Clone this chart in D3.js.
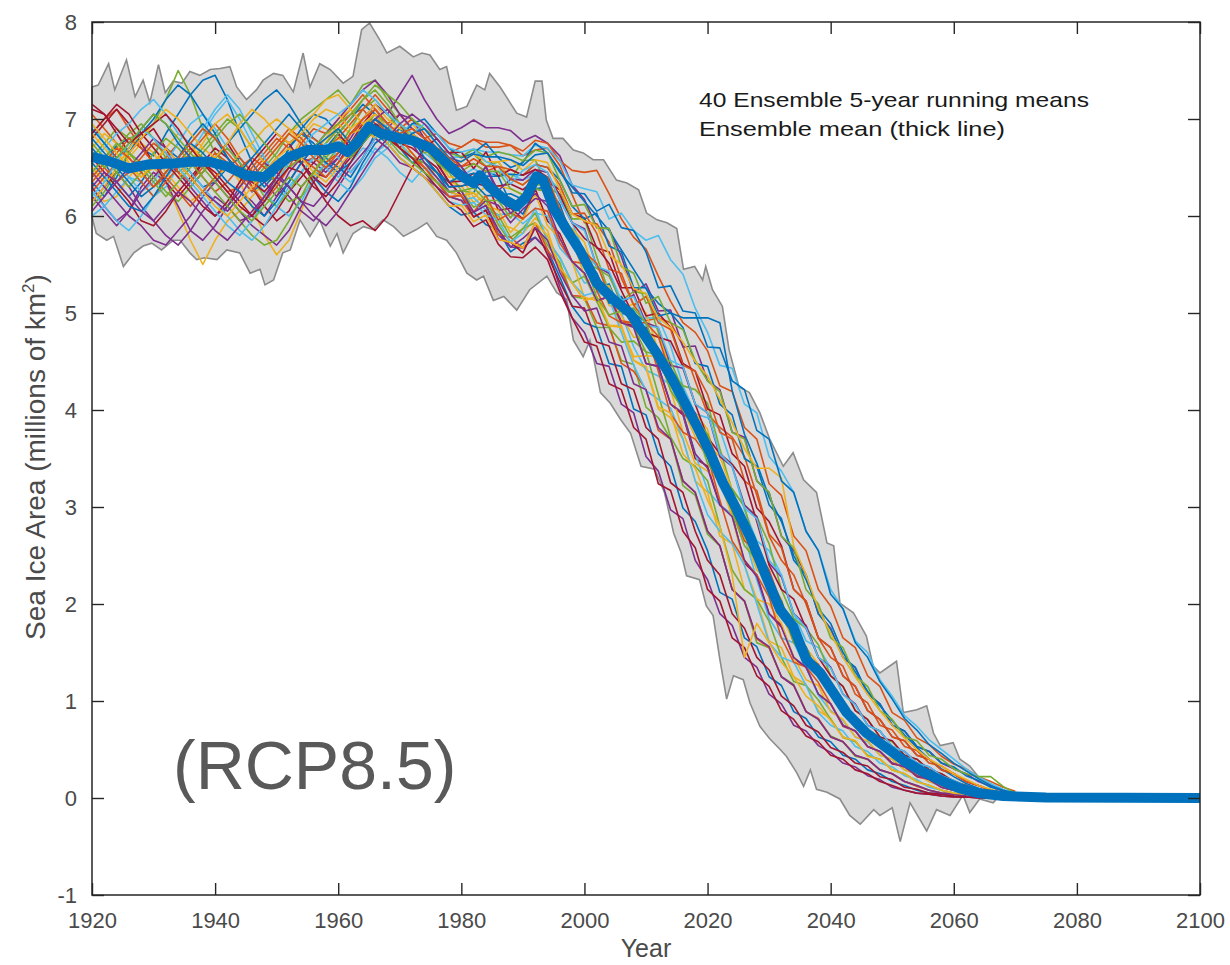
<!DOCTYPE html>
<html>
<head>
<meta charset="utf-8">
<script src="https://cdn.jsdelivr.net/npm/d3@7"></script>
<style>
  body { margin: 0; background: #fff; }
  svg { display: block; }
</style>
</head>
<body>
<div id="chart"></div>
<script>
// Years of the ensemble members (5-year running means, sampled every 2 years)
const memberYears = d3.range(1920, 2071, 2);

// 40 ensemble members, million km²
const member01 = [6.45,6.60,6.72,6.80,6.70,6.62,6.85,7.05,7.25,7.40, 7.45,7.20,6.85,6.55,6.35,6.45,6.70,6.90,7.05,7.00, 6.85,6.60,6.75,6.95,6.90,6.70,6.55,6.60,6.45,6.25, 6.21,6.24,6.46,6.41,6.13,6.02,6.28,6.30,6.12,5.77, 5.63,5.26,5.30,4.99,5.00,4.90,4.46,4.35,4.23,3.82, 3.70,3.22,3.15,2.75,2.62,2.12,2.00,1.80,1.45,1.35, 1.16,0.88,0.84,0.63,0.60,0.44,0.41,0.29,0.26,0.18, 0.13,0.07,0.06,0.03,0.02,0.01];
const member02 = [7.05,6.90,6.75,6.60,6.45,6.30,6.40,6.55,6.70,6.60, 6.40,6.25,6.30,6.50,6.65,6.80,6.70,6.55,6.60,6.75, 6.90,7.05,7.10,6.95,6.80,6.90,7.00,6.85,6.70,6.65, 6.71,6.79,6.71,6.71,6.73,6.62,6.68,6.70,6.52,6.22, 5.93,5.92,5.73,5.36,5.08,4.92,4.95,4.90,4.66,4.30, 3.96,3.82,3.72,3.52,3.12,2.70,2.45,2.30,2.00,1.65, 1.45,1.36,1.07,0.98,0.75,0.70,0.53,0.49,0.36,0.33, 0.25,0.17,0.13,0.08,0.05,0.03];
const member03 = [6.30,6.15,6.20,6.40,6.55,6.50,6.35,6.05,5.75,5.50, 5.75,5.95,6.05,6.20,6.35,6.40,6.55,6.80,6.95,6.90, 6.80,6.75,6.90,7.00,6.85,6.70,6.65,6.50,6.45,6.35, 6.31,6.14,6.21,5.91,5.88,5.82,5.98,5.85,5.47,5.31, 5.13,5.17,4.87,4.87,4.51,4.43,4.01,3.92,3.70,3.27, 3.15,2.70,2.62,2.15,2.05,1.62,1.55,1.25,1.17,0.90, 0.82,0.62,0.59,0.43,0.40,0.29,0.25,0.17,0.13,0.08, 0.05,0.04,0.02,0.01,0.01,0.00];
const member04 = [6.20,6.05,5.90,6.05,6.30,6.45,6.35,6.10,5.85,5.75, 5.90,6.10,6.25,6.15,6.00,6.20,6.45,6.60,6.55,6.45, 6.60,6.80,7.00,7.15,7.05,7.25,7.45,7.20,7.00,6.85, 6.91,6.99,6.91,6.91,6.88,6.77,6.83,6.75,6.62,6.32, 6.17,5.88,5.87,5.58,5.21,5.30,5.02,5.03,4.65,4.66, 4.30,4.21,3.77,3.72,3.27,3.15,2.70,2.55,2.30,1.90, 1.75,1.45,1.34,1.08,0.97,0.75,0.69,0.53,0.48,0.36, 0.30,0.25,0.17,0.12,0.07,0.05];
const member05 = [6.60,6.75,6.90,6.80,6.85,6.95,7.20,7.50,7.25,6.90, 6.65,6.50,6.40,6.35,6.50,6.65,6.85,7.00,7.10,7.20, 7.30,7.15,7.35,7.40,7.20,7.05,6.90,6.80,6.60,6.45, 6.26,6.24,6.11,6.01,5.78,5.87,5.93,5.70,5.52,5.17, 5.15,4.85,4.85,4.51,4.47,4.03,3.92,3.70,3.22,3.12, 2.72,2.60,2.15,2.03,1.60,1.55,1.25,1.17,0.89,0.81, 0.64,0.58,0.43,0.40,0.29,0.25,0.17,0.13,0.08,0.05, 0.04,0.02,0.01,0.01,0.00,0.00];
const member06 = [6.00,6.10,6.25,6.40,6.35,6.20,6.30,6.50,6.65,6.85, 7.05,7.20,7.00,6.75,6.55,6.40,6.30,6.45,6.60,6.55, 6.40,6.55,6.70,6.65,6.75,6.90,6.80,6.65,6.55,6.45, 6.41,6.49,6.41,6.46,6.43,6.37,6.43,6.40,6.27,5.93, 5.62,5.48,5.41,5.08,4.87,4.95,4.95,4.66,4.25,3.96, 3.92,3.80,3.42,2.97,2.65,2.55,2.30,1.90,1.62,1.55, 1.34,1.07,0.96,0.75,0.69,0.53,0.48,0.36,0.32,0.23, 0.18,0.13,0.08,0.05,0.04,0.02];
const member07 = [7.10,7.05,6.85,6.65,6.80,6.90,6.70,6.45,6.30,6.45, 6.60,6.75,6.55,6.30,6.10,5.95,6.05,6.30,6.45,6.40, 6.55,6.75,6.95,7.10,6.95,6.75,6.85,6.70,6.55,6.35, 6.36,6.44,6.36,6.06,6.08,5.97,6.28,5.95,5.82,5.53, 5.41,5.12,5.17,4.90,4.87,4.48,4.45,4.06,3.95,3.50, 3.42,3.02,2.92,2.42,2.30,1.90,1.78,1.44,1.35,1.07, 0.97,0.74,0.69,0.53,0.48,0.35,0.33,0.22,0.19,0.11, 0.08,0.05,0.04,0.02,0.01,0.01];
const member08 = [6.70,6.55,6.35,6.20,6.35,6.55,6.70,6.60,6.45,6.30, 6.35,6.50,6.60,6.45,6.30,6.45,6.70,6.85,6.75,6.60, 6.50,6.40,6.60,6.85,6.75,6.60,6.50,6.40,6.25,6.10, 6.01,6.04,5.91,5.86,5.63,5.72,5.78,5.65,5.37,5.07, 4.90,4.85,4.48,4.45,4.01,3.95,3.55,3.42,2.99,2.85, 2.55,2.12,2.05,1.65,1.56,1.25,1.16,0.89,0.82,0.63, 0.58,0.44,0.40,0.29,0.25,0.17,0.13,0.08,0.05,0.04, 0.02,0.01,0.01,0.00,0.00,0.00];
const member09 = [6.85,7.00,7.10,6.90,6.70,6.55,6.60,6.75,6.60,6.40, 6.25,6.35,6.50,6.60,6.50,6.35,6.50,6.75,6.90,6.85, 6.95,7.10,7.25,7.10,6.95,7.05,6.90,6.80,6.85,6.75, 6.71,6.79,6.76,6.76,6.73,6.67,6.78,6.75,6.57,6.47, 6.45,6.47,6.23,5.97,5.78,5.66,5.38,5.12,4.90,4.80, 4.61,4.25,4.19,3.82,3.70,3.24,3.12,2.70,2.55,2.15, 1.98,1.65,1.55,1.26,1.15,0.88,0.80,0.62,0.55,0.43, 0.35,0.30,0.22,0.17,0.11,0.07];
const member10 = [6.50,6.35,6.45,6.60,6.75,6.65,6.45,6.30,6.15,6.25, 6.40,6.55,6.35,6.10,5.80,5.60,5.75,6.05,6.40,6.75, 6.95,6.85,6.90,6.80,6.70,6.85,6.95,6.80,6.60,6.40, 6.41,6.19,6.31,6.31,6.28,6.22,6.28,6.25,5.92,5.87, 5.73,5.36,5.08,5.02,5.10,5.00,4.61,4.20,4.01,3.97, 3.80,3.32,2.92,2.75,2.60,2.32,1.90,1.60,1.55,1.38, 1.07,0.98,0.73,0.70,0.53,0.49,0.35,0.33,0.22,0.20, 0.11,0.09,0.05,0.04,0.02,0.01];
const member11 = [6.15,6.30,6.45,6.30,6.10,5.95,5.80,5.70,5.85,6.05, 6.20,6.10,5.95,6.00,6.20,6.35,6.20,6.05,5.95,6.10, 6.30,6.50,6.65,6.80,6.90,7.05,7.00,6.80,6.55,6.35, 6.21,6.04,6.11,5.81,5.68,5.67,5.78,5.65,5.27,4.95, 4.80,4.48,4.45,4.06,3.97,3.52,3.37,2.97,2.88,2.45, 2.25,1.90,1.78,1.45,1.35,1.07,0.97,0.75,0.69,0.54, 0.47,0.36,0.32,0.23,0.19,0.11,0.08,0.05,0.04,0.02, 0.01,0.01,0.00,0.00,0.00,0.00];
const member12 = [6.40,6.55,6.70,6.85,6.95,6.80,6.60,6.45,6.55,6.70, 6.85,7.00,6.90,6.70,6.55,6.30,6.15,6.20,6.35,6.55, 6.70,6.90,7.10,7.20,7.05,6.90,6.75,6.65,6.70,6.60, 6.61,6.64,6.51,6.56,6.38,6.57,6.58,6.30,6.22,5.97, 5.97,5.58,5.21,5.13,5.22,5.20,4.80,4.41,4.25,4.21, 4.07,3.60,3.17,3.02,2.90,2.62,2.15,1.85,1.75,1.58, 1.26,1.15,0.90,0.81,0.63,0.58,0.44,0.40,0.29,0.25, 0.17,0.13,0.08,0.05,0.04,0.02];
const member13 = [6.95,6.75,6.55,6.40,6.25,6.35,6.55,6.75,6.95,7.05, 6.90,6.70,6.55,6.40,6.25,6.10,6.00,6.15,6.40,6.55, 6.45,6.35,6.50,6.70,6.60,6.45,6.35,6.50,6.40,6.20, 6.16,6.19,6.06,6.01,6.03,5.92,6.03,6.00,5.67,5.53, 5.31,5.33,5.27,5.00,4.65,4.41,4.35,4.26,3.97,3.55, 3.17,3.02,2.92,2.70,2.25,1.85,1.65,1.60,1.35,1.06, 0.90,0.80,0.63,0.58,0.44,0.40,0.29,0.25,0.17,0.12, 0.08,0.05,0.04,0.02,0.01,0.01];
const member14 = [6.80,6.95,7.10,6.95,6.75,6.55,6.35,6.20,6.35,6.55, 6.45,6.30,6.15,6.00,5.90,6.05,6.25,6.40,6.55,6.70, 6.85,6.70,6.85,7.00,6.90,6.75,6.70,6.60,6.50,6.30, 6.31,6.34,6.31,6.31,6.33,6.27,6.38,6.35,6.27,6.02, 5.98,5.67,5.63,5.26,5.26,4.97,5.00,4.85,4.48,4.40, 4.01,3.95,3.55,3.42,2.99,2.85,2.60,2.15,2.03,1.65, 1.55,1.26,1.15,0.90,0.81,0.63,0.59,0.44,0.40,0.29, 0.25,0.17,0.13,0.08,0.05,0.03];
const member15 = [6.35,6.20,6.40,6.65,6.85,7.00,7.20,7.35,7.25,7.05, 6.85,6.60,6.40,6.25,6.35,6.55,6.65,6.55,6.40,6.25, 6.15,6.30,6.55,6.75,6.85,6.70,6.60,6.55,6.45,6.35, 6.41,6.44,6.41,6.41,6.43,6.42,6.53,6.50,6.37,6.10, 5.97,6.03,5.69,5.63,5.26,5.26,4.97,5.00,4.85,4.48, 4.45,4.06,3.95,3.50,3.42,3.02,2.88,2.45,2.30,1.90, 1.74,1.45,1.35,1.07,0.97,0.75,0.69,0.53,0.48,0.36, 0.32,0.23,0.18,0.11,0.08,0.05];
const member16 = [6.25,6.40,6.55,6.50,6.35,6.20,6.35,6.50,6.65,6.80, 6.95,6.80,6.60,6.45,6.60,6.75,6.90,6.80,6.65,6.55, 6.65,6.85,6.95,7.05,6.90,6.80,6.65,6.50,6.35,6.20, 6.16,5.99,6.06,5.81,5.78,5.67,5.93,5.65,5.47,5.18, 5.17,4.90,4.87,4.48,4.40,4.21,3.79,3.70,3.27,3.15, 2.75,2.60,2.15,2.03,1.64,1.55,1.25,1.16,0.89,0.82, 0.63,0.58,0.44,0.40,0.29,0.25,0.17,0.12,0.08,0.05, 0.04,0.02,0.01,0.01,0.00,0.00];
const member17 = [6.70,6.85,6.75,6.55,6.40,6.50,6.70,6.85,6.75,6.55, 6.40,6.50,6.65,6.75,6.90,7.00,6.90,6.75,6.65,6.80, 7.00,7.10,6.95,6.80,6.85,6.95,6.85,6.70,6.55,6.50, 6.56,6.64,6.56,6.56,6.38,6.32,6.43,6.40,6.07,5.77, 5.38,5.26,5.28,4.97,4.75,4.75,4.76,4.45,4.01,3.72, 3.65,3.52,3.17,2.70,2.35,2.25,2.05,1.65,1.42,1.35, 1.15,0.89,0.83,0.62,0.59,0.43,0.41,0.29,0.26,0.17, 0.13,0.07,0.06,0.03,0.02,0.01];
const member18 = [6.30,6.10,5.95,6.05,6.25,6.40,6.55,6.45,6.30,6.15, 6.00,6.10,6.30,6.45,6.35,6.20,6.35,6.55,6.70,6.85, 7.00,7.15,7.30,7.40,7.25,7.05,6.90,6.80,6.65,6.55, 6.51,6.29,6.51,6.26,6.38,6.37,6.48,6.45,6.17,5.93, 5.87,5.48,5.41,5.10,5.19,4.90,4.85,4.46,4.43,4.06, 3.97,3.52,3.42,3.02,2.90,2.42,2.28,1.90,1.78,1.45, 1.35,1.07,0.97,0.75,0.69,0.53,0.48,0.36,0.32,0.23, 0.18,0.12,0.09,0.05,0.04,0.02];
const member19 = [6.10,6.25,6.45,6.65,6.55,6.40,6.25,6.15,6.30,6.45, 6.60,6.70,6.55,6.40,6.20,6.10,6.25,6.45,6.60,6.75, 6.90,6.75,6.90,7.05,6.95,6.75,6.60,6.55,6.40,6.25, 6.26,6.09,6.16,5.91,5.73,5.87,6.03,5.75,5.57,5.31, 5.38,5.12,4.85,4.70,4.71,4.60,4.16,3.72,3.50,3.42, 3.27,2.80,2.35,2.15,2.05,1.82,1.45,1.20,1.16,1.01, 0.81,0.63,0.58,0.44,0.40,0.29,0.25,0.17,0.13,0.08, 0.05,0.04,0.02,0.01,0.01,0.00];
const member20 = [6.55,6.70,6.85,6.95,7.10,7.20,7.05,6.85,6.75,6.90, 7.10,7.25,7.10,6.85,6.60,6.40,6.30,6.45,6.60,6.50, 6.35,6.25,6.40,6.60,6.70,6.85,6.95,6.90,6.75,6.60, 6.61,6.69,6.66,6.66,6.63,6.62,6.73,6.70,6.57,6.32, 6.28,6.25,5.97,6.03,5.85,5.75,5.80,5.55,5.40,5.05, 4.80,4.46,4.43,4.06,3.97,3.52,3.37,3.15,2.75,2.55, 2.15,1.95,1.62,1.50,1.22,1.05,0.85,0.74,0.60,0.50, 0.40,0.30,0.22,0.15,0.09,0.05];
const member21 = [6.60,6.45,6.30,6.15,5.95,5.90,6.05,6.25,6.40,6.55, 6.70,6.60,6.45,6.35,6.25,6.40,6.60,6.55,6.40,6.30, 6.45,6.60,6.75,6.90,6.80,6.70,6.85,6.75,6.55,6.35, 6.21,5.99,6.06,5.76,5.73,5.62,5.88,5.60,5.32,5.07, 5.05,4.70,4.66,4.27,4.21,3.82,3.70,3.25,3.15,2.75, 2.45,2.30,1.90,1.75,1.45,1.32,1.05,0.95,0.75,0.68, 0.52,0.47,0.36,0.33,0.22,0.19,0.11,0.09,0.05,0.04, 0.02,0.01,0.01,0.00,0.00,0.00];
const member22 = [6.90,6.75,6.60,6.70,6.90,7.05,6.95,6.75,6.60,6.50, 6.60,6.75,6.90,7.05,7.20,7.30,7.15,6.95,6.80,6.70, 6.85,7.00,7.15,7.05,6.90,6.80,6.95,7.00,6.85,6.70, 6.60,6.65,6.75,6.60,6.50,6.55,6.75,6.65,6.45,6.30, 6.15,6.00,5.85,5.65,5.45,5.25,5.10,5.00,4.95,4.95, 4.95,4.90,4.20,3.75,3.45,3.10,2.85,2.50,2.25,1.95, 1.80,1.50,1.30,1.10,0.95,0.80,0.65,0.52,0.40,0.30, 0.22,0.15,0.10,0.06,0.04,0.02];
const member23 = [6.65,6.50,6.35,6.45,6.60,6.75,6.65,6.45,6.35,6.50, 6.65,6.55,6.40,6.25,6.45,6.60,6.75,6.85,6.80,6.70, 6.80,6.95,7.10,7.25,7.10,6.95,6.85,6.70,6.60,6.50, 6.51,6.54,6.46,6.51,6.48,6.42,6.53,6.50,6.32,6.02, 6.03,5.82,5.45,5.41,5.08,5.17,4.90,4.83,4.46,4.40, 4.16,3.77,3.70,3.27,3.17,2.72,2.58,2.15,2.03,1.65, 1.55,1.26,1.15,0.90,0.81,0.63,0.59,0.44,0.40,0.29, 0.25,0.17,0.13,0.08,0.05,0.03];
const member24 = [6.15,6.30,6.50,6.70,6.85,6.70,6.55,6.40,6.55,6.75, 6.95,7.05,6.90,6.70,6.55,6.70,6.85,6.95,7.05,7.20, 7.25,7.10,6.95,7.05,6.90,6.75,6.60,6.45,6.35,6.25, 6.21,6.24,6.11,6.06,5.83,5.97,6.23,5.90,5.77,5.53, 5.16,5.13,5.17,4.85,4.55,4.56,4.55,4.21,3.77,3.45, 3.37,3.27,2.90,2.40,2.05,2.00,1.80,1.45,1.22,1.16, 0.89,0.81,0.63,0.59,0.44,0.40,0.29,0.25,0.17,0.13, 0.08,0.05,0.04,0.02,0.01,0.01];
const member25 = [6.45,6.30,6.15,6.00,5.90,5.75,5.70,5.85,6.00,6.20, 6.35,6.20,6.05,5.90,5.80,5.70,5.85,6.10,6.35,6.50, 6.60,6.45,6.60,6.80,6.70,6.55,6.50,6.40,6.30,6.20, 6.16,6.04,6.16,6.11,5.93,6.07,6.18,6.15,6.02,5.72, 5.58,5.41,5.13,5.17,4.87,4.85,4.51,4.43,4.06,3.97, 3.55,3.42,2.99,2.90,2.45,2.28,1.90,1.80,1.45,1.35, 1.08,0.98,0.74,0.70,0.52,0.50,0.35,0.34,0.22,0.20, 0.11,0.09,0.05,0.04,0.02,0.01];
const member26 = [6.75,6.60,6.45,6.30,6.45,6.65,6.80,6.70,6.55,6.40, 6.25,6.10,5.95,5.80,5.70,5.75,5.95,6.20,6.45,6.65, 6.85,7.00,7.20,7.35,7.25,7.15,7.00,6.90,6.80,6.65, 6.61,6.69,6.61,6.66,6.63,6.57,6.68,6.65,6.37,6.10, 6.12,5.88,5.87,5.48,5.41,5.10,5.17,4.90,4.83,4.51, 4.30,4.19,3.77,3.70,3.27,3.15,2.70,2.58,2.15,2.00, 1.65,1.55,1.26,1.15,0.90,0.81,0.63,0.59,0.44,0.40, 0.30,0.25,0.22,0.22,0.12,0.05];
const member27 = [6.25,6.10,5.95,5.85,6.00,6.20,6.40,6.55,6.45,6.30, 6.15,6.00,5.85,5.75,5.90,6.10,6.30,6.45,6.60,6.75, 6.60,6.45,6.60,6.80,6.95,6.75,6.60,6.45,6.30,6.15, 6.11,6.14,6.01,5.96,5.73,5.82,6.08,5.75,5.57,5.31, 5.18,5.22,5.15,4.80,4.46,4.20,4.11,4.02,3.70,3.27, 2.92,2.75,2.62,2.40,2.00,1.60,1.45,1.40,1.16,0.88, 0.75,0.69,0.53,0.48,0.36,0.32,0.23,0.19,0.11,0.08, 0.05,0.04,0.02,0.01,0.01,0.00];
const member28 = [6.85,7.00,7.15,7.05,6.85,6.70,6.55,6.40,6.25,6.10, 6.00,6.15,6.35,6.55,6.70,6.85,6.75,6.55,6.35,6.15, 6.00,5.90,5.95,5.85,6.00,6.25,6.50,6.70,6.80,6.65, 6.66,6.49,6.66,6.41,6.48,6.42,6.48,6.40,6.22,5.93, 5.77,5.68,5.51,5.23,4.97,4.80,4.75,4.71,4.45,4.06, 3.72,3.55,3.44,3.27,2.85,2.40,2.15,2.05,1.75,1.45, 1.26,1.15,0.90,0.81,0.63,0.59,0.44,0.40,0.29,0.25, 0.17,0.13,0.08,0.06,0.03,0.02];
const member29 = [6.55,6.40,6.25,6.10,6.05,6.20,6.40,6.60,6.80,6.95, 6.80,6.60,6.45,6.60,6.75,6.90,7.05,6.90,6.70,6.55, 6.45,6.55,6.75,6.90,6.80,6.90,6.80,6.60,6.45,6.30, 6.31,6.34,6.21,6.21,6.23,6.17,6.28,6.25,6.07,5.82, 5.48,5.41,5.10,5.17,4.90,4.83,4.46,4.40,4.21,3.79, 3.68,3.27,3.17,2.72,2.60,2.15,2.03,1.65,1.56,1.26, 1.15,0.90,0.82,0.63,0.60,0.43,0.40,0.29,0.26,0.17, 0.13,0.07,0.06,0.03,0.02,0.01];
const member30 = [6.35,6.50,6.65,6.80,6.70,6.55,6.40,6.25,6.10,6.25, 6.40,6.55,6.45,6.30,6.15,6.30,6.50,6.60,6.50,6.40, 6.55,6.70,6.90,7.00,6.85,6.70,6.60,6.50,6.35,6.20, 6.21,6.04,6.21,5.96,6.03,5.97,6.08,6.05,5.72,5.53, 5.51,5.23,4.97,4.90,4.90,4.81,4.40,3.96,3.77,3.70, 3.52,3.07,2.65,2.45,2.30,2.07,1.65,1.40,1.35,1.19, 0.97,0.75,0.69,0.53,0.48,0.36,0.32,0.23,0.19,0.11, 0.08,0.05,0.04,0.02,0.01,0.01];
const member31 = [6.85,6.70,6.55,6.65,6.80,6.95,7.10,7.00,6.85,6.70, 6.60,6.75,6.95,7.10,7.00,6.85,6.75,6.85,7.00,7.10, 7.05,6.90,7.00,7.15,7.00,6.90,6.85,6.75,6.65,6.55, 6.56,6.64,6.56,6.56,6.58,6.47,6.58,6.55,6.27,6.02, 5.95,5.90,5.60,5.50,5.25,5.20,4.95,4.85,4.70,4.50, 4.35,4.11,3.87,3.60,3.40,3.40,3.30,2.60,2.30,1.95, 1.70,1.45,1.25,1.07,0.90,0.75,0.62,0.50,0.40,0.33, 0.25,0.19,0.13,0.09,0.05,0.04];
const member32 = [6.05,6.20,6.35,6.50,6.65,6.80,6.70,6.55,6.40,6.25, 6.15,6.05,6.20,6.40,6.55,6.45,6.30,6.15,6.10,6.25, 6.45,6.65,6.85,7.00,7.10,6.95,6.75,6.55,6.40,6.25, 6.26,6.04,6.11,5.86,5.68,5.77,5.88,5.75,5.42,5.18, 5.02,5.05,4.70,4.66,4.27,4.21,3.82,3.70,3.27,3.15, 2.75,2.60,2.15,2.03,1.65,1.56,1.25,1.16,0.89,0.81, 0.63,0.58,0.44,0.40,0.29,0.25,0.17,0.13,0.08,0.05, 0.04,0.02,0.01,0.01,0.00,0.00];
const member33 = [6.45,6.60,6.75,6.65,6.50,6.35,6.20,6.35,6.50,6.65, 6.80,6.95,7.05,6.90,6.75,6.60,6.50,6.60,6.70,6.85, 6.95,7.05,7.20,7.30,7.15,6.95,6.80,6.70,6.55,6.45, 6.46,6.54,6.46,6.46,6.28,6.22,6.33,6.30,5.97,5.82, 5.53,5.46,5.38,5.12,4.85,4.60,4.56,4.50,4.21,3.82, 3.45,3.27,3.19,3.00,2.55,2.10,1.90,1.80,1.55,1.25, 1.16,0.90,0.82,0.62,0.60,0.43,0.41,0.28,0.26,0.16, 0.12,0.09,0.05,0.04,0.02,0.01];
const member34 = [6.20,6.35,6.55,6.75,6.90,6.80,6.65,6.50,6.35,6.20, 6.05,5.90,5.80,5.95,6.15,6.35,6.55,6.70,6.85,6.95, 7.05,7.15,7.30,7.20,7.05,6.95,6.85,6.95,6.85,6.70, 6.66,6.69,6.56,6.51,6.33,6.47,6.53,6.45,6.17,5.93, 5.85,5.48,5.43,5.13,5.17,4.87,4.85,4.51,4.45,4.06, 3.97,3.55,3.42,2.99,2.88,2.45,2.30,1.90,1.75,1.45, 1.34,1.07,0.96,0.75,0.69,0.53,0.48,0.36,0.32,0.23, 0.18,0.12,0.09,0.05,0.04,0.02];
const member35 = [7.15,7.05,6.90,6.75,6.85,6.95,7.05,6.90,6.70,6.55, 6.40,6.25,6.10,6.00,6.15,6.35,6.50,6.45,6.30,6.20, 6.35,6.55,6.75,6.95,6.85,6.70,6.60,6.45,6.30,6.15, 6.06,5.89,5.96,5.71,5.58,5.57,5.68,5.55,5.22,4.95, 4.70,4.66,4.27,4.21,3.82,3.70,3.24,3.17,2.75,2.58, 2.15,2.03,1.65,1.55,1.26,1.15,0.90,0.81,0.64,0.58, 0.44,0.40,0.29,0.25,0.17,0.13,0.08,0.05,0.04,0.02, 0.01,0.01,0.00,0.00,0.00,0.00];
const member36 = [6.80,6.65,6.50,6.35,6.20,6.30,6.45,6.60,6.75,6.65, 6.50,6.35,6.25,6.10,6.00,6.15,6.35,6.55,6.70,6.80, 6.90,6.75,6.85,7.00,6.90,6.75,6.85,6.90,6.75,6.60, 6.56,6.64,6.61,6.61,6.58,6.52,6.63,6.65,6.47,6.24, 6.23,6.05,6.12,5.88,5.85,5.63,5.26,5.28,5.02,5.00, 4.65,4.64,4.30,4.21,3.79,3.70,3.27,3.15,2.75,2.55, 2.10,1.95,1.60,1.45,1.20,1.02,0.82,0.70,0.55,0.46, 0.36,0.28,0.20,0.13,0.08,0.05];
const member37 = [6.40,6.55,6.70,6.60,6.45,6.30,6.45,6.60,6.75,6.90, 6.80,6.65,6.50,6.40,6.55,6.70,6.85,6.75,6.60,6.50, 6.65,6.85,7.00,7.10,6.95,6.85,6.90,6.80,6.70,6.60, 6.51,6.59,6.51,6.51,6.38,6.32,6.43,6.40,6.07,5.82, 5.63,5.51,5.18,4.92,4.90,4.90,4.76,4.35,3.96,3.87, 3.75,3.42,2.97,2.65,2.55,2.35,2.00,1.60,1.45,1.38, 1.15,0.89,0.83,0.63,0.60,0.43,0.41,0.29,0.26,0.17, 0.14,0.12,0.09,0.06,0.03,0.02];
const member38 = [6.95,6.80,6.65,6.50,6.40,6.55,6.70,6.55,6.40,6.25, 6.10,6.00,6.15,6.30,6.45,6.60,6.70,6.60,6.45,6.35, 6.50,6.65,6.80,6.90,6.75,6.60,6.50,6.40,6.25,6.10, 6.11,5.94,6.01,5.76,5.73,5.67,5.93,5.80,5.47,5.31, 5.13,5.17,4.87,4.85,4.51,4.45,4.03,3.97,3.55,3.40, 3.07,2.80,2.30,1.45,1.80,1.60,1.40,1.25,1.05,0.95, 0.80,0.63,0.59,0.43,0.40,0.29,0.25,0.17,0.13,0.08, 0.05,0.04,0.02,0.01,0.01,0.00];
const member39 = [6.30,6.45,6.35,6.20,6.05,5.95,6.10,6.25,6.15,6.00, 5.85,5.75,5.90,6.05,6.20,6.40,6.30,6.15,6.00,5.90, 6.05,6.25,6.45,6.65,6.80,6.95,7.05,6.95,6.80,6.65, 6.51,6.34,6.51,6.21,6.03,6.12,6.23,6.10,5.77,5.53, 5.41,5.13,5.17,4.90,4.85,4.48,4.45,4.06,3.97,3.55, 3.40,3.02,2.90,2.45,2.28,1.90,1.76,1.45,1.35,1.07, 0.97,0.75,0.69,0.53,0.48,0.36,0.32,0.23,0.19,0.11, 0.08,0.05,0.04,0.02,0.01,0.01];
const member40 = [6.65,6.50,6.60,6.75,6.90,7.05,6.95,6.80,6.65,6.50, 6.35,6.20,6.05,5.95,6.10,6.25,6.40,6.30,6.45,6.60, 6.75,6.60,6.75,6.90,6.80,6.65,6.55,6.45,6.35,6.25, 6.26,6.29,6.16,6.16,5.98,6.17,6.28,6.25,5.92,5.77, 5.53,5.16,4.98,5.02,5.05,4.90,4.56,4.20,4.01,3.92, 3.75,3.37,2.95,2.60,2.45,2.30,2.00,1.60,1.45,1.35, 1.08,0.97,0.74,0.70,0.52,0.50,0.35,0.34,0.22,0.20, 0.11,0.09,0.05,0.04,0.02,0.01];

// Ensemble mean (thick line), [year, value]
const ensembleMean = [[1920,6.61],[1923,6.56],[1926,6.49],[1929,6.53],[1933,6.54],[1936,6.56],[1939,6.56],[1942,6.51],[1945,6.42],[1948,6.40],[1950,6.51],[1952,6.61],[1955,6.68],[1958,6.68],[1960,6.72],[1961.5,6.66],[1963,6.75],[1965,6.92],[1967,6.85],[1970,6.80],[1972,6.78],[1975,6.70],[1977,6.58],[1980,6.41],[1982,6.34],[1983,6.42],[1984.6,6.30],[1987,6.17],[1989,6.10],[1990.6,6.20],[1992.2,6.41],[1993.3,6.37],[1995,6.08],[1997,5.87],[1999.3,5.64],[2002,5.31],[2004.7,5.14],[2007.4,5.00],[2009.6,4.79],[2011.7,4.59],[2014,4.35],[2016,4.11],[2018.3,3.83],[2020.4,3.56],[2022.5,3.25],[2024.7,2.98],[2027,2.68],[2029.6,2.27],[2031.8,1.94],[2033.9,1.77],[2036,1.43],[2038.3,1.29],[2040.4,1.09],[2042.6,0.88],[2045.8,0.67],[2049,0.52],[2052,0.38],[2055,0.27],[2058,0.18],[2061,0.10],[2064,0.05],[2068,0.02],[2075,0.005],[2100,0]];

// Spread of the ensemble (grey band), [year, value]
const upperEnvelope = [[1920,7.33],[1921,7.35],[1922.7,7.57],[1923.7,7.30],[1925.6,7.61],[1927,7.23],[1928.3,7.40],[1929.4,7.17],[1930.8,7.56],[1931.9,7.27],[1933.2,7.39],[1934.6,7.37],[1935.9,7.49],[1937.5,7.45],[1939.2,7.51],[1940.8,7.52],[1942.4,7.54],[1943.5,7.33],[1945.1,7.20],[1946.7,7.30],[1947.8,7.40],[1949.5,7.47],[1951,7.45],[1952.7,7.28],[1954.3,7.68],[1955.4,7.33],[1957,7.57],[1958.7,7.51],[1960.8,7.37],[1962.4,7.44],[1963.8,7.92],[1965.1,7.99],[1966.8,7.81],[1967.9,7.68],[1970,7.75],[1972.2,7.64],[1973.6,7.68],[1974.9,7.66],[1976.5,7.51],[1977.6,7.54],[1979.2,7.09],[1980.9,7.13],[1982.5,7.35],[1983.8,7.30],[1984.6,7.47],[1986.3,7.33],[1987.3,7.23],[1989,7.06],[1990.6,7.02],[1992,7.39],[1993.1,7.39],[1993.8,6.99],[1994.9,6.80],[1996.5,6.80],[1998.2,6.68],[1999.8,6.65],[2001.4,6.58],[2003.1,6.58],[2005.2,6.37],[2006.9,6.34],[2008.8,6.27],[2010.1,6.03],[2011.8,5.96],[2013.4,5.93],[2015,5.87],[2016.1,5.45],[2017.9,5.48],[2019.2,5.34],[2019.7,5.48],[2020.8,5.24],[2022.4,5.07],[2023.5,4.62],[2025.1,4.24],[2026.8,4.18],[2028.5,3.97],[2030.1,3.70],[2032.3,3.42],[2033.9,3.56],[2035.6,3.28],[2037.7,3.15],[2039.4,2.63],[2040.5,2.60],[2041.5,2.01],[2043.7,1.91],[2045.8,1.67],[2046.9,1.36],[2048,1.29],[2050.7,1.41],[2051.8,0.88],[2054,0.91],[2055.6,0.95],[2056.7,0.67],[2057.8,0.54],[2059.9,0.57],[2061,0.40],[2062.6,0.33],[2064,0.22],[2066,0.14],[2067.5,0.05]];
const lowerEnvelope = [[1920,5.99],[1920.7,5.82],[1922.4,5.75],[1923.5,5.79],[1925.1,5.48],[1926.8,5.62],[1928.3,5.69],[1929.7,5.72],[1931.3,5.65],[1933.2,5.75],[1934.3,5.75],[1935.9,5.62],[1937,5.55],[1938.3,5.57],[1940.3,5.55],[1941.9,5.65],[1944,5.62],[1945.7,5.41],[1947.3,5.45],[1948.1,5.29],[1949.5,5.34],[1951,5.62],[1952.2,5.65],[1953.8,5.96],[1955.4,5.79],[1957,5.96],[1958.7,5.69],[1959.8,5.82],[1960.8,5.62],[1962.4,5.82],[1964.1,5.89],[1965.7,5.86],[1967.3,5.96],[1969,5.89],[1970.6,5.79],[1972.7,5.86],[1974.4,5.93],[1976,5.79],[1977.6,5.75],[1979.2,5.62],[1980.9,5.41],[1982.5,5.34],[1983.6,5.38],[1985.2,5.13],[1986.9,5.17],[1989,5.03],[1991.1,5.24],[1993.9,5.38],[1995.5,5.21],[1997.1,5.14],[1998.2,4.72],[1999.8,4.55],[2000.9,4.72],[2002.6,4.18],[2004.2,4.07],[2005.9,3.90],[2007.5,3.76],[2009.2,3.42],[2011.4,3.39],[2013,3.15],[2014.5,2.73],[2015.7,2.53],[2016.6,2.29],[2018.7,2.25],[2019.8,1.98],[2020.9,1.88],[2022,1.43],[2023.1,1.02],[2024.2,1.26],[2025.8,1.22],[2026.9,0.98],[2028.5,0.74],[2030.1,0.61],[2031.8,0.50],[2032.8,0.43],[2034.5,0.26],[2035.6,0.12],[2036.7,0.29],[2037.7,0.09],[2039.4,0.06],[2041.5,-0.01],[2043.1,-0.18],[2044.8,-0.27],[2047,-0.12],[2048,-0.18],[2050,-0.10],[2051.3,-0.45],[2052.9,-0.05],[2055.6,-0.34],[2057.2,-0.12],[2059.4,-0.18],[2061.5,0.03],[2062.6,-0.15],[2064.2,-0.01],[2066.4,-0.05],[2067.5,0.03]];

const xTicks = [1920, 1940, 1960, 1980, 2000, 2020, 2040, 2060, 2080, 2100];
const yTicks = [-1, 0, 1, 2, 3, 4, 5, 6, 7, 8];

// MATLAB default line colour order
const lineColors = ['#0072BD', '#D95319', '#EDB120', '#7E2F8E', '#77AC30', '#4DBEEE', '#A2142F'];

const members = [member01, member02, member03, member04, member05, member06, member07, member08, member09, member10,
    member11, member12, member13, member14, member15, member16, member17, member18, member19, member20,
    member21, member22, member23, member24, member25, member26, member27, member28, member29, member30,
    member31, member32, member33, member34, member35, member36, member37, member38, member39, member40];

const W = 1230, H = 965;
const plot = { left: 92, right: 1200, top: 22, bottom: 895 };
const fontFamily = '"Liberation Sans", Arial, Helvetica, sans-serif';

const svg = d3.select('#chart').append('svg')
    .attr('width', W)
    .attr('height', H);

const x = d3.scaleLinear().domain([1920, 2100]).range([plot.left, plot.right]);
const y = d3.scaleLinear().domain([-1, 8]).range([plot.bottom, plot.top]);

// Grey band
const bandLine = d3.line().x(d => x(d[0])).y(d => y(d[1]));
svg.append('path')
    .attr('d', bandLine(upperEnvelope.concat(lowerEnvelope.slice().reverse())) + 'Z')
    .attr('fill', '#d9d9d9')
    .attr('stroke', '#8c8c8c')
    .attr('stroke-width', 1.6);

// Ensemble members
const memberLine = d3.line()
    .x((d, i) => x(memberYears[i]))
    .y(d => y(d));

svg.append('g')
    .selectAll('path')
    .data(members)
    .enter()
    .append('path')
    .attr('d', memberLine)
    .attr('fill', 'none')
    .attr('stroke', (d, i) => lineColors[i % lineColors.length])
    .attr('stroke-width', 1.6)
    .attr('stroke-linejoin', 'round');

// Ensemble mean
svg.append('path')
    .attr('d', bandLine(ensembleMean))
    .attr('fill', 'none')
    .attr('stroke', '#0072BD')
    .attr('stroke-width', 10)
    .attr('stroke-linejoin', 'round');

// Axes (ticks point inwards, box on all four sides)
function styleAxis(g) {
    g.select('.domain').remove();
    g.selectAll('.tick line').attr('stroke', '#262626').attr('stroke-width', 1.4);
    g.selectAll('.tick text')
        .attr('fill', '#4a4a4a')
        .style('font-family', fontFamily)
        .style('font-size', '22px');
}

svg.append('g')
    .attr('transform', `translate(0,${plot.bottom})`)
    .call(d3.axisBottom(x).tickValues(xTicks).tickFormat(d => String(d)).tickSize(-12).tickSizeOuter(0).tickPadding(17))
    .call(styleAxis);

svg.append('g')
    .attr('transform', `translate(0,${plot.top})`)
    .call(d3.axisTop(x).tickValues(xTicks).tickFormat('').tickSize(-12).tickSizeOuter(0))
    .call(styleAxis);

svg.append('g')
    .attr('transform', `translate(${plot.left},0)`)
    .call(d3.axisLeft(y).tickValues(yTicks).tickFormat(d => String(d)).tickSize(-12).tickSizeOuter(0).tickPadding(15))
    .call(styleAxis);

svg.append('g')
    .attr('transform', `translate(${plot.right},0)`)
    .call(d3.axisRight(y).tickValues(yTicks).tickFormat('').tickSize(-12).tickSizeOuter(0))
    .call(styleAxis);

svg.append('rect')
    .attr('x', plot.left)
    .attr('y', plot.top)
    .attr('width', plot.right - plot.left)
    .attr('height', plot.bottom - plot.top)
    .attr('fill', 'none')
    .attr('stroke', '#262626')
    .attr('stroke-width', 1.5);

// Axis labels
svg.append('text')
    .attr('x', (plot.left + plot.right) / 2)
    .attr('y', 957)
    .attr('text-anchor', 'middle')
    .style('font-family', fontFamily)
    .style('font-size', '25px')
    .attr('fill', '#4a4a4a')
    .text('Year');

const yLabel = svg.append('text')
    .attr('transform', 'translate(45,457) rotate(-90)')
    .attr('text-anchor', 'middle')
    .style('font-family', fontFamily)
    .style('font-size', '28px')
    .attr('fill', '#4a4a4a');
yLabel.append('tspan').text('Sea Ice Area (millions of km');
yLabel.append('tspan').attr('dy', -11).style('font-size', '17px').text('2');
yLabel.append('tspan').attr('dy', 11).text(')');

// Annotations
svg.append('text')
    .attr('x', 699)
    .attr('y', 107)
    .attr('textLength', 390)
    .attr('lengthAdjust', 'spacingAndGlyphs')
    .style('font-family', fontFamily)
    .style('font-size', '21px')
    .attr('fill', '#1a1a1a')
    .text('40 Ensemble 5-year running means');

svg.append('text')
    .attr('x', 699)
    .attr('y', 136)
    .attr('textLength', 306)
    .attr('lengthAdjust', 'spacingAndGlyphs')
    .style('font-family', fontFamily)
    .style('font-size', '21px')
    .attr('fill', '#1a1a1a')
    .text('Ensemble mean (thick line)');

svg.append('text')
    .attr('x', 173)
    .attr('y', 789)
    .style('font-family', fontFamily)
    .style('font-size', '68px')
    .attr('fill', '#595959')
    .text('(RCP8.5)');
</script>
</body>
</html>
